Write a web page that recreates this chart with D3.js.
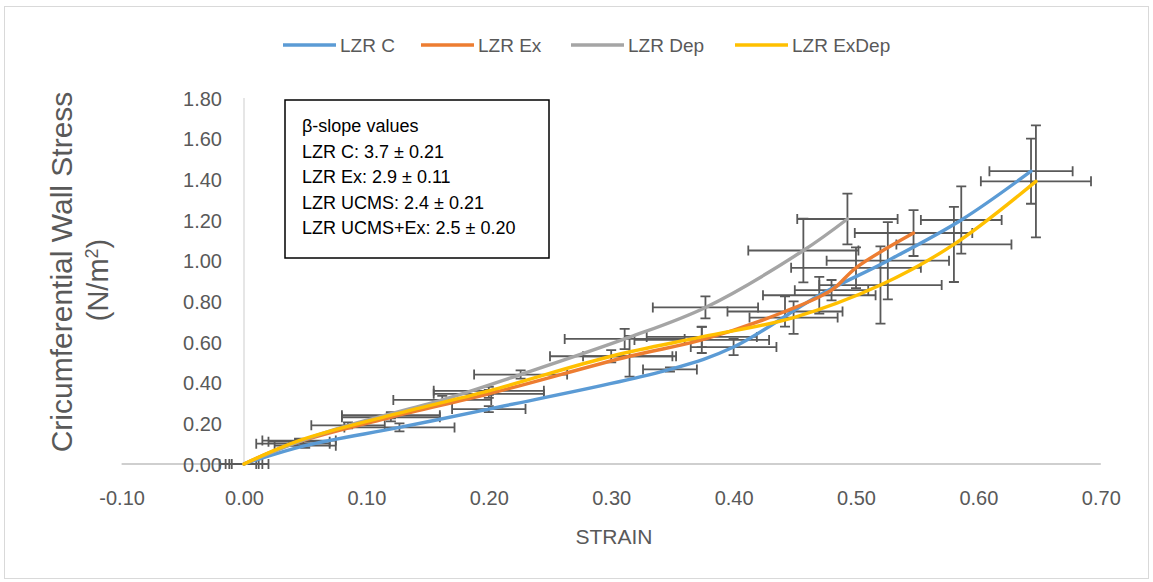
<!DOCTYPE html>
<html>
<head>
<meta charset="utf-8">
<script src="https://cdn.jsdelivr.net/npm/d3@7"></script>
<style>
  html, body { margin: 0; padding: 0; background: #fff; }
  svg { display: block; font-family: "Liberation Sans", Arial, sans-serif; }
</style>
</head>
<body>
<svg id="chart" width="1153" height="582"></svg>
<script>
// Series: strain (x), stress (y) and their standard errors
const seriesNames = ["LZR C", "LZR Ex", "LZR Dep", "LZR ExDep"];
const seriesColors = ["#5B9BD5", "#ED7D31", "#A5A5A5", "#FFC000"];

const cStrain    = [0, 0.05, 0.127, 0.20, 0.348, 0.40, 0.47, 0.526, 0.586, 0.643];
const cStress    = [0, 0.09, 0.18, 0.27, 0.465, 0.575, 0.83, 1.00, 1.20, 1.44];
const cStrainErr = [0.012, 0.025, 0.045, 0.03, 0.022, 0.035, 0.046, 0.05, 0.033, 0.034];
const cStressErr = [0, 0.01, 0.02, 0.015, 0.01, 0.04, 0.09, 0.19, 0.165, 0.16];

const exStrain    = [0, 0.04, 0.12, 0.20, 0.315, 0.374, 0.442, 0.48, 0.50, 0.547];
const exStress    = [0, 0.10, 0.23, 0.345, 0.53, 0.61, 0.75, 0.855, 0.965, 1.136];
const exStrainErr = [0.015, 0.03, 0.04, 0.045, 0.038, 0.055, 0.047, 0.03, 0.053, 0.048];
const exStressErr = [0, 0.01, 0.02, 0.02, 0.10, 0.064, 0.074, 0.05, 0.10, 0.113];

const depStrain    = [0, 0.045, 0.085, 0.162, 0.226, 0.311, 0.377, 0.457, 0.493];
const depStress    = [0, 0.11, 0.19, 0.315, 0.44, 0.615, 0.77, 1.05, 1.205];
const depStrainErr = [0.01, 0.025, 0.03, 0.04, 0.038, 0.049, 0.043, 0.045, 0.041];
const depStressErr = [0, 0.01, 0.015, 0.02, 0.02, 0.05, 0.054, 0.157, 0.125];

const exDepStrain    = [0, 0.045, 0.12, 0.20, 0.30, 0.374, 0.449, 0.52, 0.58, 0.647];
const exDepStress    = [0, 0.115, 0.24, 0.36, 0.53, 0.625, 0.72, 0.88, 1.08, 1.39];
const exDepStrainErr = [0.02, 0.03, 0.04, 0.045, 0.05, 0.045, 0.036, 0.05, 0.047, 0.045];
const exDepStressErr = [0, 0.01, 0.015, 0.02, 0.03, 0.05, 0.08, 0.19, 0.185, 0.275];

const xTicks = [-0.10, 0.00, 0.10, 0.20, 0.30, 0.40, 0.50, 0.60, 0.70];
const yTicks = [0.00, 0.20, 0.40, 0.60, 0.80, 1.00, 1.20, 1.40, 1.60, 1.80];

const slopeNotes = [
  "\u03B2-slope values",
  "LZR C: 3.7 \u00B1 0.21",
  "LZR Ex: 2.9 \u00B1 0.11",
  "LZR UCMS: 2.4 \u00B1 0.21",
  "LZR UCMS+Ex: 2.5 \u00B1 0.20"
];

function build(xs, ys, xe, ye) {
  return xs.map((x, i) => ({ x, y: ys[i], xe: xe[i], ye: ye[i] }));
}
const series = [
  build(cStrain, cStress, cStrainErr, cStressErr),
  build(exStrain, exStress, exStrainErr, exStressErr),
  build(depStrain, depStress, depStrainErr, depStressErr),
  build(exDepStrain, exDepStress, exDepStrainErr, exDepStressErr)
];

const svg = d3.select("#chart");
const textGray = "#595959";
// two decimals, plain hyphen for negatives
const fmt = v => d3.format(".2f")(v).replace("\u2212", "-");

// chart border
svg.append("rect")
  .attr("x", 4.5).attr("y", 6.5).attr("width", 1144).attr("height", 572)
  .attr("fill", "#fff").attr("stroke", "#D9D9D9").attr("stroke-width", 1);

const x = d3.scaleLinear().domain([-0.1, 0.7]).range([121.6, 1100.8]);
const y = d3.scaleLinear().domain([0, 1.8]).range([464, 98]);

// axis lines through the origin
svg.append("line")
  .attr("x1", x(-0.1)).attr("x2", x(0.7)).attr("y1", y(0)).attr("y2", y(0))
  .attr("stroke", "#BFBFBF").attr("stroke-width", 1.3);
svg.append("line")
  .attr("x1", x(0)).attr("x2", x(0)).attr("y1", y(1.8)).attr("y2", y(0))
  .attr("stroke", "#D9D9D9").attr("stroke-width", 1.3);

// tick labels
const xAxis = d3.axisBottom(x).tickValues(xTicks).tickFormat(fmt).tickSize(0).tickPadding(0);
const gx = svg.append("g").attr("transform", `translate(0,${y(0)})`).call(xAxis);
gx.select(".domain").remove();
gx.selectAll("text").attr("y", 41).attr("dy", null)
  .attr("fill", textGray).style("font-size", "20px");

const yAxis = d3.axisLeft(y).tickValues(yTicks).tickFormat(fmt).tickSize(0).tickPadding(0);
const gy = svg.append("g").attr("transform", `translate(222,0)`).call(yAxis);
gy.select(".domain").remove();
gy.selectAll("text").attr("x", 0).attr("dy", "0.35em")
  .attr("fill", textGray).style("font-size", "20px");

// axis titles
svg.append("text")
  .attr("x", 614).attr("y", 544).attr("text-anchor", "middle")
  .attr("fill", textGray).style("font-size", "21px").text("STRAIN");

svg.append("text")
  .attr("transform", "translate(72,272) rotate(-90)")
  .attr("text-anchor", "middle")
  .attr("fill", textGray).style("font-size", "30px").text("Cricumferential Wall Stress");
const unit = svg.append("text")
  .attr("transform", "translate(108,280) rotate(-90)")
  .attr("text-anchor", "middle")
  .attr("fill", textGray).style("font-size", "29px");
unit.append("tspan").text("(N/m");
unit.append("tspan").attr("dy", -10).style("font-size", "18px").text("2");
unit.append("tspan").attr("dy", 10).text(")");

// error bars
const cap = 5;
const errG = svg.append("g").attr("stroke", "#595959").attr("stroke-width", 1.8).attr("fill", "none");
series.forEach(pts => {
  pts.forEach(p => {
    const cx = x(p.x), cy = y(p.y);
    const x0 = x(p.x - p.xe), x1 = x(p.x + p.xe);
    errG.append("path").attr("d",
      `M${x0},${cy}H${x1}M${x0},${cy - cap}V${cy + cap}M${x1},${cy - cap}V${cy + cap}`);
    if (p.ye > 0) {
      const y0 = y(p.y - p.ye), y1 = y(p.y + p.ye);
      errG.append("path").attr("d",
        `M${cx},${y0}V${y1}M${cx - cap},${y0}H${cx + cap}M${cx - cap},${y1}H${cx + cap}`);
    }
  });
});

// smoothed series lines
const line = d3.line().x(d => x(d.x)).y(d => y(d.y)).curve(d3.curveCatmullRom.alpha(0.5));
series.forEach((pts, i) => {
  svg.append("path").datum(pts)
    .attr("d", line)
    .attr("fill", "none")
    .attr("stroke", seriesColors[i])
    .attr("stroke-width", 3.4)
    .attr("stroke-linecap", "round")
    .attr("stroke-linejoin", "round");
});

// legend
const legendX = [283, 421, 571, 735];
const legend = svg.append("g");
seriesNames.forEach((name, i) => {
  legend.append("line")
    .attr("x1", legendX[i]).attr("x2", legendX[i] + 53)
    .attr("y1", 45).attr("y2", 45)
    .attr("stroke", seriesColors[i]).attr("stroke-width", 3.5);
  legend.append("text")
    .attr("x", legendX[i] + 57).attr("y", 52)
    .attr("fill", textGray).style("font-size", "19px").text(name);
});

// slope annotation box
svg.append("rect")
  .attr("x", 285).attr("y", 100).attr("width", 264).attr("height", 158)
  .attr("fill", "#fff").attr("stroke", "#000").attr("stroke-width", 1.5);
svg.append("g").selectAll("text").data(slopeNotes).join("text")
  .attr("x", 302).attr("y", (d, i) => 132 + i * 25.5)
  .attr("fill", "#000").style("font-size", "18px")
  .text(d => d);
</script>
</body>
</html>
